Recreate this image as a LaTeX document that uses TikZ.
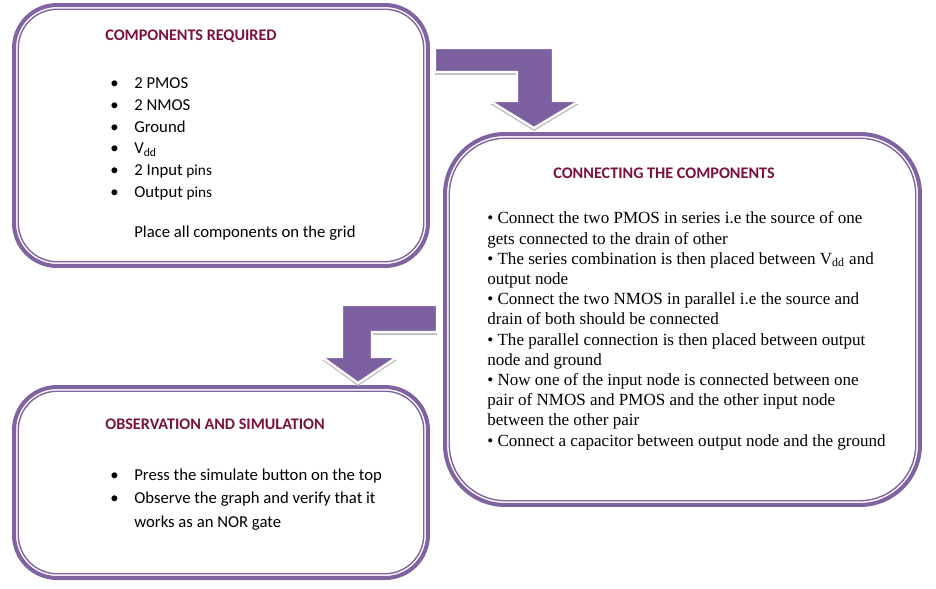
\documentclass[tikz,border=0pt]{standalone}
\usepackage{fontspec}
\setmainfont{Carlito}
\newfontfamily\timesfont{Liberation Serif}
\usepackage{tikz}
\usetikzlibrary{arrows.meta, positioning, calc}
\definecolor{cPurple}{RGB}{128,100,162}
\definecolor{cArrow}{RGB}{125,96,160}
\definecolor{cHead}{RGB}{122,18,60}
\definecolor{cShade}{RGB}{190,190,196}
\newcommand{\bul}[1]{\makebox[0.48cm][l]{\textbullet}#1}
\tikzset{
  %% rounded panels
  panel/.style={rectangle, draw=cPurple, fill=white, line width=2.3pt,
                inner sep=0pt, outer sep=0pt},
  panelin/.style={draw=cPurple, line width=0.8pt},
  %% texts (multi-line nodes sit on the baseline of their last line)
  head/.style={font=\bfseries\fontsize{9.2}{11}\selectfont, text=cHead,
               inner sep=0pt, anchor=base west},
  body/.style={font=\fontsize{9.5}{12.35}\selectfont, align=left,
               inner sep=0pt, anchor=base west},
  serifbody/.style={font=\timesfont\fontsize{9.7}{11.49}\selectfont, align=left,
                    inner sep=0pt, anchor=base west},
  %% bent block arrows
  bentarrow/.style={fill=cArrow, draw=white, line width=1.3pt, line join=miter},
  arrowshade/.style={fill=cShade},
}

\begin{document}
\begin{tikzpicture}[x=0.02cm, y=-0.02cm]
\useasboundingbox (0,0) rectangle (936,588);

%% =============================================================
%%  PANELS
%% =============================================================
\node[panel, rounded corners=0.86cm, minimum width=8.28cm, minimum height=5.22cm]
  (comp) at (221,135.5) {};
\node[panel, rounded corners=1.2cm, minimum width=9.5cm, minimum height=7.42cm]
  (conn) at (682.5,319.5) {};
\node[panel, rounded corners=0.86cm, minimum width=8.28cm, minimum height=3.82cm]
  (obs) at (221,482.5) {};

%% -- thin inner lines --
\draw[panelin, rounded corners=0.78cm]
  ([xshift=2.4pt,yshift=-2.4pt]comp.north west) rectangle ([xshift=-2.4pt,yshift=2.4pt]comp.south east);
\draw[panelin, rounded corners=1.12cm]
  ([xshift=2.4pt,yshift=-2.4pt]conn.north west) rectangle ([xshift=-2.4pt,yshift=2.4pt]conn.south east);
\draw[panelin, rounded corners=0.78cm]
  ([xshift=2.4pt,yshift=-2.4pt]obs.north west) rectangle ([xshift=-2.4pt,yshift=2.4pt]obs.south east);

%% =============================================================
%%  ARROWS
%% =============================================================
%% -- components -> connecting --
\fill[arrowshade, shift={(0,3)}]
  (435,48) -- (553,48) -- (553,101) -- (579,101) -- (534,128) -- (490,101)
  -- (517,101) -- (517,72) -- (435,72) -- cycle;
\draw[bentarrow]
  (435,48) -- (553,48) -- (553,101) -- (579,101) -- (534,128) -- (490,101)
  -- (517,101) -- (517,72) -- (435,72) -- cycle;

%% -- connecting -> observation --
\fill[arrowshade, shift={(0,3)}]
  (437,305) -- (437,332) -- (372,332) -- (372,357) -- (397,357) -- (358,383)
  -- (322,357) -- (342,357) -- (342,305) -- cycle;
\draw[bentarrow]
  (437,305) -- (437,332) -- (372,332) -- (372,357) -- (397,357) -- (358,383)
  -- (322,357) -- (342,357) -- (342,305) -- cycle;

%% =============================================================
%%  TEXTS
%% =============================================================
\node[head] (compT) at (105,41) {COMPONENTS REQUIRED};
\node[body] (compL) at (110,237) {%
  \bul{2 PMOS}\\
  \bul{2 NMOS}\\
  \bul{Ground}\\
  \bul{V\textsubscript{dd}}\\
  \bul{2 Input {\fontsize{8.7}{10}\selectfont pins}}\\
  \bul{Output {\fontsize{8.7}{10}\selectfont pins}}\\[10.3pt]
  \hspace*{0.48cm}Place all components on the grid};

\node[head] (connT) at (553,178) {CONNECTING THE COMPONENTS};
\node[serifbody] (connL) at (487,446) {%
  \textbullet{} Connect the two PMOS in series i.e the source of one\\
  gets connected to the drain of other\\
  \textbullet{} The series combination is then placed between V\textsubscript{dd} and\\
  output node\\
  \textbullet{} Connect the two NMOS in parallel i.e the source and\\
  drain of both should be connected\\
  \textbullet{} The parallel connection is then placed between output\\
  node and ground\\
  \textbullet{} Now one of the input node is connected between one\\
  pair of NMOS and PMOS and the other input node\\
  between the other pair\\
  \textbullet{} Connect a capacitor between output node and the ground};

\node[head] (obsT) at (105,429) {OBSERVATION AND SIMULATION};
\node[body, font=\fontsize{9.5}{13.3}\selectfont] (obsL) at (110,527) {%
  \bul{Press the simulate button on the top}\\
  \bul{Observe the graph and verify that it}\\
  \hspace*{0.48cm}works as an NOR gate};

\end{tikzpicture}
\end{document}
